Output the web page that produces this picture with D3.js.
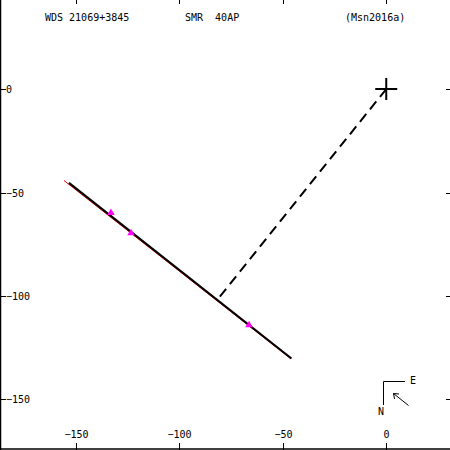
<!DOCTYPE html>
<html>
<head>
<meta charset="utf-8">
<script src="https://cdn.jsdelivr.net/npm/d3@7"></script>
<style>
  body { margin: 0; background: #fff; }
  svg text { font-family: "DejaVu Sans Mono", monospace; font-size: 10px; fill: #000; }
</style>
</head>
<body>
<div id="plot"></div>
<script>
// header texts
const titles = ["WDS 21069+3845", "SMR  40AP", "(Msn2016a)"]
const titleX = [45, 185, 345]

// ticks (mas)
const xTicks = [-150, -100, -50, 0],
      yTicks = [0, -50, -100, -150]

// observations
const obsX = [-133.0, -123.3, -66.3],
      obsY = [-59.8, -69.6, -114.0]

// linear fit (black) and ephemeris (red)
const fitX = [-153.3, -45.8],
      fitY = [-45.4, -130.2]
const ephX = [-155.7, -46.0],
      ephY = [-44.2, -130.4]

// closest approach point
const footX = -81.6, footY = -101.8

const w = 450, h = 450

const svg = d3.select("#plot").append("svg")
  .attr("width", w)
  .attr("height", h)

const xScale = d3.scaleLinear()
  .domain([-186.6, 30.8])
  .range([0, w])
const yScale = d3.scaleLinear()
  .domain([43, -174.4])
  .range([0, h])

// frame
svg.append("line")
  .attr("x1", 0.5).attr("y1", 0).attr("x2", 0.5).attr("y2", h)
  .attr("stroke", "#000").attr("stroke-width", 1.5)
svg.append("line")
  .attr("x1", 0).attr("y1", h - 1).attr("x2", w).attr("y2", h - 1)
  .attr("stroke", "#000").attr("stroke-width", 1.5)

// x ticks, bottom and top
xTicks.forEach(t => {
  const x = Math.round(xScale(t)) + 0.5
  svg.append("line")
    .attr("x1", x).attr("y1", h - 7).attr("x2", x).attr("y2", h)
    .attr("stroke", "#000")
  svg.append("line")
    .attr("x1", x).attr("y1", 0).attr("x2", x).attr("y2", 4)
    .attr("stroke", "#000")
  svg.append("text")
    .attr("x", x)
    .attr("y", 438)
    .style("text-anchor", "middle")
    .text(String(t).replace("-", "\u2212"))
})

// y ticks, left and right
yTicks.forEach(t => {
  const y = Math.round(yScale(t)) + 0.5
  svg.append("line")
    .attr("x1", 0).attr("y1", y).attr("x2", 6).attr("y2", y)
    .attr("stroke", "#000")
  svg.append("line")
    .attr("x1", w - 4).attr("y1", y).attr("x2", w).attr("y2", y)
    .attr("stroke", "#000")
  svg.append("text")
    .attr("x", 6)
    .attr("y", y + 3.5)
    .text(String(t).replace("-", "\u2212"))
})

// header
titles.forEach((s, i) => {
  svg.append("text")
    .attr("x", titleX[i])
    .attr("y", 20.5)
    .style("white-space", "pre")
    .attr("xml:space", "preserve")
    .text(s)
})

// dashed line from primary to closest point
svg.append("line")
  .attr("x1", xScale(0)).attr("y1", yScale(0))
  .attr("x2", xScale(footX)).attr("y2", yScale(footY))
  .attr("stroke", "#000")
  .attr("stroke-width", 2)
  .style("stroke-dasharray", "10, 6")

// ephemeris (red) under fit
svg.append("line")
  .attr("x1", xScale(ephX[0])).attr("y1", yScale(ephY[0]))
  .attr("x2", xScale(ephX[1])).attr("y2", yScale(ephY[1]))
  .attr("stroke", "#ff0000")
  .attr("stroke-width", 1)

svg.append("line")
  .attr("x1", xScale(fitX[0])).attr("y1", yScale(fitY[0]))
  .attr("x2", xScale(fitX[1])).attr("y2", yScale(fitY[1]))
  .attr("stroke", "#000")
  .attr("stroke-width", 2.2)

// observations
const tri = d3.symbol().type(d3.symbolTriangle).size(24)
obsX.forEach((x, i) => {
  svg.append("path")
    .attr("d", tri)
    .attr("transform", `translate(${xScale(x)}, ${yScale(obsY[i])})`)
    .attr("fill", "#ff00ff")
})

// primary star
const cx = xScale(0), cy = yScale(0), cs = 11
svg.append("line")
  .attr("x1", cx - cs).attr("y1", cy).attr("x2", cx + cs).attr("y2", cy)
  .attr("stroke", "#000").attr("stroke-width", 2)
svg.append("line")
  .attr("x1", cx).attr("y1", cy - cs).attr("x2", cx).attr("y2", cy + cs)
  .attr("stroke", "#000").attr("stroke-width", 2)

// compass
const comp = svg.append("g")
comp.append("path")
  .attr("d", "M405,381.5 H383.5 V405")
  .attr("fill", "none").attr("stroke", "#000")
comp.append("text").attr("x", 410).attr("y", 384).text("E")
comp.append("text").attr("x", 378).attr("y", 415).text("N")
comp.append("path")
  .attr("d", "M408.5,405.5 L393.5,393.5 M393.5,393.5 L399,394 M393.5,393.5 L394.5,399")
  .attr("fill", "none").attr("stroke", "#000")
</script>
</body>
</html>
